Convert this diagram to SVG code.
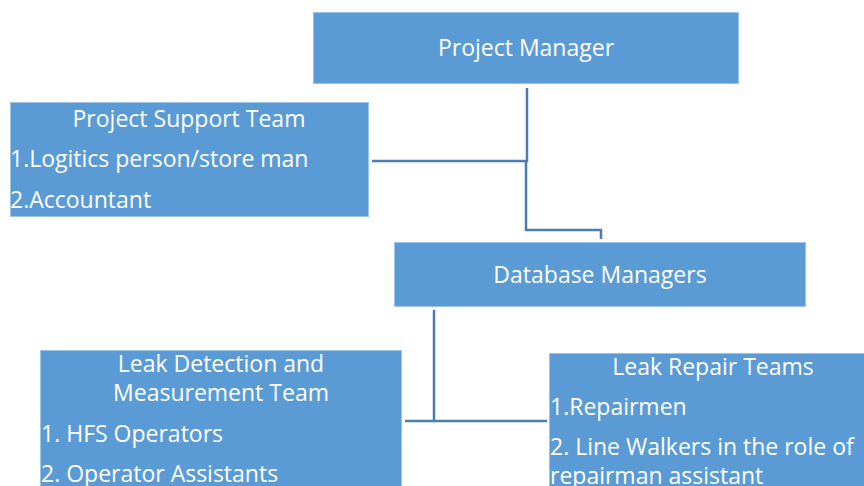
<svg xmlns="http://www.w3.org/2000/svg" width="864" height="486" viewBox="0 0 864 486">
<style>
.box{fill:#5B9BD5;stroke:#9DC3E6;stroke-width:1}
.t{font-family:"Open Sans","Noto Sans","Liberation Sans",sans-serif;font-size:23px;fill:#FFFFFF}
.c{text-anchor:middle}
.ln{fill:none;stroke:#4A7EB0;stroke-width:2.5}
</style>
<rect width="864" height="486" fill="#FFFFFF"/>
<g id="connectors">
<polyline class="ln" points="527,88 527,161 372,161"/>
<polyline class="ln" points="526,161 526,230 601,230 601,239"/>
<polyline class="ln" points="434,310 434,421 405,421"/>
<polyline class="ln" points="434,421 547,421"/>
</g>
<g id="project-manager">
<rect class="box" x="313.5" y="12.5" width="425" height="71"/>
<text class="t c" x="526" y="56">Project Manager</text>
</g>
<g id="project-support-team">
<rect class="box" x="10.5" y="102.5" width="358" height="114"/>
<text class="t c" x="189" y="127">Project Support Team</text>
<text class="t" x="10" y="167">1.Logitics person/store man</text>
<text class="t" x="10" y="208">2.Accountant</text>
</g>
<g id="database-managers">
<rect class="box" x="394.5" y="242.5" width="411" height="64"/>
<text class="t c" x="600" y="283">Database Managers</text>
</g>
<g id="leak-detection">
<rect class="box" x="40.5" y="350.5" width="361" height="140"/>
<text class="t c" x="221" y="372">Leak Detection and</text>
<text class="t c" x="221" y="401">Measurement Team</text>
<text class="t" x="41" y="442">1. HFS Operators</text>
<text class="t" x="41" y="482">2. Operator Assistants</text>
</g>
<g id="leak-repair">
<rect class="box" x="549.5" y="353.5" width="320" height="140"/>
<text class="t c" x="713" y="375">Leak Repair Teams</text>
<text class="t" x="550" y="415">1.Repairmen</text>
<text class="t" x="550" y="455">2. Line Walkers in the role of</text>
<text class="t" x="550" y="484">repairman assistant</text>
</g>
</svg>
